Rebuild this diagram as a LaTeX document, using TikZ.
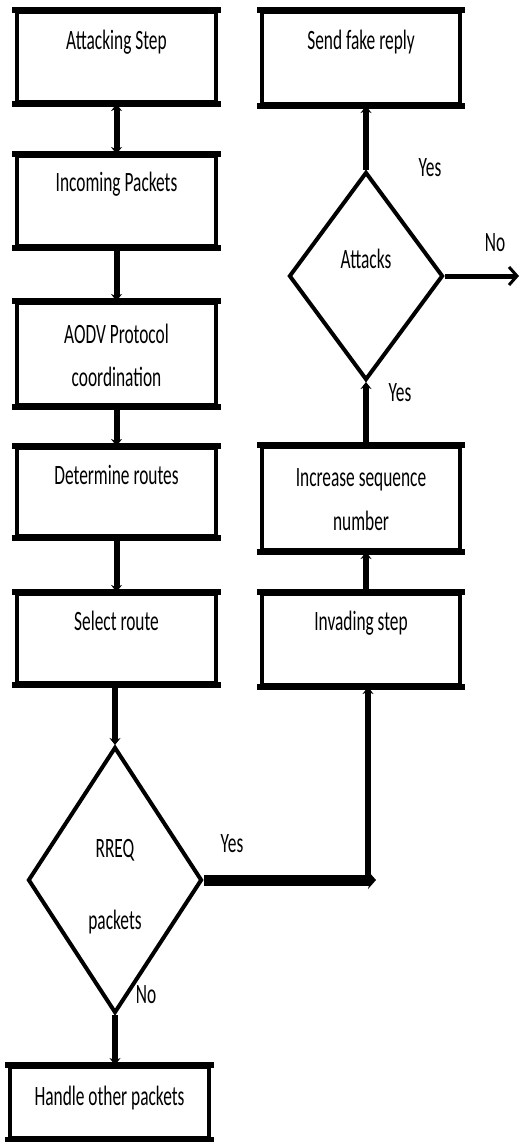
\documentclass[tikz,border=0pt]{standalone}
\usepackage{fontspec}
\newfontfamily\calfont[FakeStretch=0.62]{Carlito}
\usetikzlibrary{arrows.meta,shapes.geometric,calc}
\begin{document}
\begin{tikzpicture}[x=1pt,y=-1pt,
  box/.style={draw, line width=4pt, minimum width=199pt, inner sep=0pt},
  dec/.style={draw, diamond, line width=4pt, inner sep=0pt},
  txt/.style={anchor=base, inner sep=0pt, font=\calfont\fontsize{28}{34}\selectfont},
  conn/.style={line width=6pt, -{Stealth[length=7pt,width=11pt]}},
  hborder/.style={line width=6pt, line cap=rect},
]
\useasboundingbox (0,0) rectangle (521,1142);

% left column
\node[box, minimum height=90pt] (b1) at (116.5,57) {};
\node[box, minimum height=90pt] (b2) at (116.5,201) {};
\node[box, minimum height=102pt] (b3) at (116.5,354) {};
\node[box, minimum height=88pt] (b4) at (116.5,492) {};
\node[box, minimum height=89pt] (b5) at (116.5,638.5) {};
\node[dec, minimum width=174pt, minimum height=266pt] (rreq) at (115,880) {};
\node[box, minimum height=71pt] (hand) at (109.5,1102.5) {};

% right column
\node[box, minimum width=198pt, minimum height=92pt] (send) at (361,58) {};
\node[dec, minimum width=154pt, minimum height=208pt] (att) at (366,276) {};
\node[box, minimum width=198pt, minimum height=103pt] (inc) at (361,498.5) {};
\node[box, minimum width=198pt, minimum height=91pt] (inv) at (361,639.5) {};

% heavier top and bottom borders of the boxes
\foreach \n in {b1,b2,b3,b4,b5,hand,send,inc,inv}
  \draw[hborder] (\n.north west) -- (\n.north east) (\n.south west) -- (\n.south east);

% texts
\node[txt] (t1) at ($(b1.north)+(0,40)$) {Attacking Step};
\node[txt] (t2) at ($(b2.north)+(0,37)$) {Incoming Packets};
\node[txt] (t3a) at ($(b3.north)+(0,42)$) {AODV Protocol};
\node[txt] (t3b) at ($(b3.north)+(0,85)$) {coordination};
\node[txt] (t4) at ($(b4.north)+(0,38)$) {Determine routes};
\node[txt] (t5) at ($(b5.north)+(0,38)$) {Select route};
\node[txt] (t6) at ($(hand.north)+(0,40)$) {Handle other packets};
\node[txt] (tr1) at (115,857) {RREQ};
\node[txt] (tr2) at (115,929) {packets};
\node[txt] (ts) at ($(send.north)+(0,40)$) {Send fake reply};
\node[txt] (ta) at (366,268) {Attacks};
\node[txt] (tinc1) at ($(inc.north)+(0,41)$) {Increase sequence};
\node[txt] (tinc2) at ($(inc.north)+(0,85)$) {number};
\node[txt] (tinv) at ($(inv.north)+(0,38)$) {Invading step};

% edge labels
\node[txt] (ly1) at (232,852) {Yes};
\node[txt] (ln1) at (146,1003) {No};
\node[txt] (ly2) at (430,176) {Yes};
\node[txt] (ln2) at (495,251) {No};
\node[txt] (ly3) at (400,401) {Yes};

% connectors
\draw[line width=6pt, {Stealth[length=7pt,width=11pt]}-{Stealth[length=7pt,width=11pt]}] (b1.south) -- (b2.north);
\draw[conn] (b2.south) -- (b3.north);
\draw[conn] (b3.south) -- (b4.north);
\draw[conn] (b4.south) -- (b5.north);
\draw[conn] (rreq.north |- b5.south) -- (rreq.north);
\draw[conn] (rreq.south) -- (rreq.south |- hand.north);

\coordinate (corner) at (368,880);
\coordinate (yesend) at (376,880);
\draw[line width=11pt, -{Stealth[length=8pt,width=18pt]}] (rreq.east) -- (yesend);
\draw[conn] (corner) -- (corner |- inv.south);
\draw[conn] (att.south |- inv.north) -- (att.south |- inc.south);
\draw[conn] (att.south |- inc.north) -- (att.south);
\draw[conn] (att.north) -- (att.north |- send.south);
\coordinate (noend) at (519,276);
\draw[line width=5pt, -{Straight Barb[length=8pt,width=18pt,line width=3pt]}] (att.east) -- (noend);
\end{tikzpicture}
\end{document}
